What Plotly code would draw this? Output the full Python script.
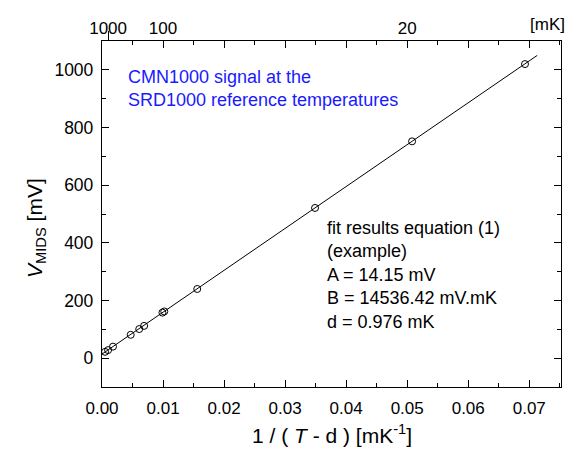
import plotly.graph_objects as go

# measured points: x = 1/(T-d) [mK^-1], y = V_MIDS [mV]
inv_t = [0.0005, 0.0010, 0.0018, 0.0047, 0.0061, 0.0069, 0.0099, 0.0102, 0.0156, 0.0349, 0.0508, 0.0693]
v_mids = [22, 28, 40, 81, 101, 112, 158, 162, 240, 521, 752, 1020]

# fitted straight line (end points)
fit_x = [0.0, 0.0713]
fit_y = [14.15, 1050.0]

# top axis: temperature labels in mK
top_T = [1000, 100, 20]
top_pos = [1.0 / t for t in top_T]
top_text = [str(t) for t in top_T]

FONT = "Liberation Sans, Arial, sans-serif"

L, R, T, B = 102, 8, 41, 64
W, H = 569, 451
PW, PH = W - L - R, H - T - B


def px(x):
    return (x - L) / PW


def py(y):
    return (H - B - y) / PH


fig = go.Figure()
fig.add_trace(go.Scatter(x=fit_x, y=fit_y, mode="lines",
                         line=dict(color="black", width=1), showlegend=False))
fig.add_trace(go.Scatter(x=inv_t, y=v_mids, mode="markers",
                         marker=dict(symbol="circle-open", size=7, color="black",
                                     line=dict(width=1, color="black")),
                         showlegend=False))
fig.add_trace(go.Scatter(x=[None], y=[None], xaxis="x2", showlegend=False))
fig.add_trace(go.Scatter(x=[None], y=[None], xaxis="x3", showlegend=False))

xr = [0.0, 0.0752]
tick_common = dict(ticks="inside", ticklen=7, tickwidth=1.2, tickcolor="black")
fig.update_layout(
    width=W, height=H,
    margin=dict(l=L, r=R, t=T, b=B),
    paper_bgcolor="white", plot_bgcolor="white",
    font=dict(family=FONT, size=17, color="black"),
    xaxis=dict(range=xr, showgrid=False, zeroline=False, automargin=False,
               showline=True, linecolor="black", linewidth=1.3, mirror="ticks",
               tickvals=[0, 0.01, 0.02, 0.03, 0.04, 0.05, 0.06, 0.07],
               ticktext=["0.00", "0.01", "0.02", "0.03", "0.04", "0.05", "0.06", "0.07"],
               minor=dict(tickvals=[0.005, 0.015, 0.025, 0.035, 0.045, 0.055, 0.065, 0.075],
                          ticks="inside", ticklen=4, tickwidth=1.2, tickcolor="black"),
               ticklabelstandoff=5, tickfont=dict(size=17), **tick_common),
    yaxis=dict(range=[-100, 1100], showgrid=False, zeroline=False, automargin=False,
               showline=True, linecolor="black", linewidth=1.3, mirror="ticks",
               tickvals=[0, 200, 400, 600, 800, 1000],
               minor=dict(tickvals=[-100, 100, 300, 500, 700, 900, 1100],
                          ticks="inside", ticklen=4, tickwidth=1.2, tickcolor="black"),
               ticklabelstandoff=4, tickfont=dict(size=17.5), **tick_common),
    xaxis2=dict(range=xr, overlaying="x", side="top", anchor="y", automargin=False,
                showgrid=False, zeroline=False, showline=False,
                tickvals=top_pos, ticktext=top_text, ticks="",
                tickfont=dict(size=17), ticklabelstandoff=3),
    xaxis3=dict(range=xr, overlaying="x", side="top", anchor="y", automargin=False,
                showgrid=False, zeroline=False, showline=False,
                tickvals=top_pos[:1], showticklabels=False,
                ticks="outside", ticklen=9, tickwidth=1, tickcolor="black"),
)

fig.add_annotation(text="[mK]", xref="paper", yref="paper", x=1.0, y=py(24),
                   xanchor="right", yanchor="middle", xshift=6, showarrow=False,
                   font=dict(size=17))
fig.add_annotation(text="CMN1000 signal at the<br>SRD1000 reference temperatures",
                   xref="paper", yref="paper", x=px(126), y=py(65),
                   xanchor="left", yanchor="top", align="left", showarrow=False,
                   font=dict(size=18, color="#1a1aff"))
fig.add_annotation(text="fit results equation (1)<br>(example)<br>A = 14.15 mV<br>"
                        "B = 14536.42 mV.mK<br>d = 0.976 mK",
                   xref="paper", yref="paper", x=px(325), y=py(216),
                   xanchor="left", yanchor="top", align="left", showarrow=False,
                   font=dict(size=18))
fig.add_annotation(text="1 / ( <i>T</i> - d ) [mK<sup>-1</sup>]",
                   xref="paper", yref="paper", x=0.5, y=py(434),
                   xanchor="center", yanchor="middle", showarrow=False,
                   font=dict(size=21))
fig.add_annotation(text="<i>V</i><sub>MIDS</sub> [mV]",
                   xref="paper", yref="paper", x=px(36), y=py(228), textangle=-90,
                   xanchor="center", yanchor="middle", showarrow=False,
                   font=dict(size=21))

fig.write_html("out.html",
               config={"displayModeBar": False},
               post_script="document.body.style.margin='0';"
                           "document.body.style.overflow='hidden';")
